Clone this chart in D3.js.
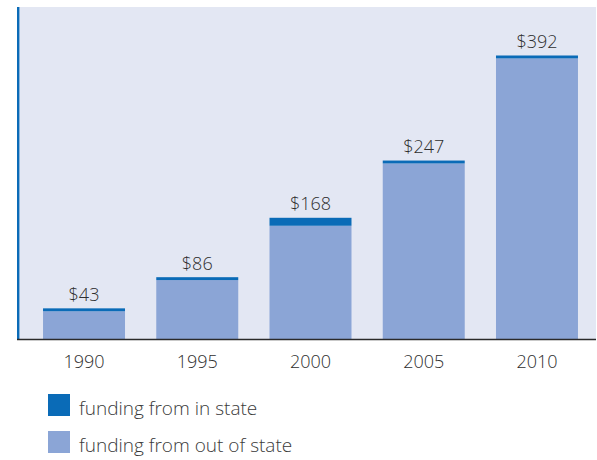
<!DOCTYPE html>
<html>
<head>
<meta charset="utf-8">
<script src="https://cdn.jsdelivr.net/npm/d3@7"></script>
<style>
  html, body { margin: 0; padding: 0; background: #ffffff; }
  svg { display: block; }
  text { font-family: "Open Sans", "Noto Sans", sans-serif; font-weight: 300; }
</style>
</head>
<body>
<svg id="chart" width="597" height="460"></svg>
<script>
const years = ["1990", "1995", "2000", "2005", "2010"];
const totals = [43, 86, 168, 247, 392];
const inState = [4, 4, 11, 4, 4];
const outState = [39, 82, 157, 243, 388];
const totalLabels = ["$43", "$86", "$168", "$247", "$392"];
const legendLabels = ["funding from in state", "funding from out of state"];

const colors = { inState: "#0a6bb7", outState: "#8ba5d6", panel: "#e3e7f3" };

const svg = d3.select("#chart");
const panel = { left: 17, right: 596, top: 7, bottom: 339.5 };

svg.append("rect")
  .attr("x", panel.left).attr("y", panel.top)
  .attr("width", panel.right - panel.left)
  .attr("height", panel.bottom - panel.top)
  .attr("fill", colors.panel);

const x = d3.scaleBand()
  .domain(years)
  .range([27.4, 593.6])
  .paddingInner(0.276)
  .paddingOuter(0.138);

const y = d3.scaleLinear()
  .domain([0, 400])
  .range([panel.bottom, panel.bottom - 289.8]);

const data = years.map((yr, i) => ({ yr, total: totals[i], inS: inState[i], outS: outState[i], label: totalLabels[i] }));

const g = svg.append("g");

g.selectAll("rect.out")
  .data(data).join("rect")
  .attr("class", "out")
  .attr("x", d => x(d.yr))
  .attr("width", x.bandwidth())
  .attr("y", d => y(d.outS))
  .attr("height", d => y(0) - y(d.outS))
  .attr("fill", colors.outState);

g.selectAll("rect.in")
  .data(data).join("rect")
  .attr("class", "in")
  .attr("x", d => x(d.yr))
  .attr("width", x.bandwidth())
  .attr("y", d => y(d.outS + d.inS))
  .attr("height", d => y(d.outS) - y(d.outS + d.inS))
  .attr("fill", colors.inState);

g.selectAll("text.val")
  .data(data).join("text")
  .attr("class", "val")
  .attr("x", d => x(d.yr) + x.bandwidth() / 2)
  .attr("y", d => y(d.total) - 7.5)
  .attr("text-anchor", "middle")
  .attr("font-size", 18)
  .attr("fill", "#2e2e2e")
  .text(d => d.label);

// left axis line
svg.append("line")
  .attr("x1", panel.left + 1.2).attr("x2", panel.left + 1.2)
  .attr("y1", panel.top).attr("y2", panel.bottom)
  .attr("stroke", colors.inState).attr("stroke-width", 2.4);

// x axis
const xAxis = d3.axisBottom(x).tickSize(0).tickPadding(16);
const ax = svg.append("g")
  .attr("transform", `translate(0,${panel.bottom})`)
  .call(xAxis);
ax.select(".domain").remove();
ax.selectAll("text")
  .attr("font-size", 18)
  .attr("fill", "#2e2e2e")
  .style("font-family", "'Open Sans', sans-serif")
  .style("font-weight", 300);

svg.append("line")
  .attr("x1", panel.left).attr("x2", panel.right)
  .attr("y1", panel.bottom).attr("y2", panel.bottom)
  .attr("stroke", "#2a2a2a").attr("stroke-width", 1.6);

// legend
const legColors = [colors.inState, colors.outState];
const leg = svg.append("g");
legendLabels.forEach((lab, i) => {
  const ly = 394 + i * 37;
  leg.append("rect")
    .attr("x", 48).attr("y", ly)
    .attr("width", 22).attr("height", 22)
    .attr("fill", legColors[i]);
  leg.append("text")
    .attr("x", 79).attr("y", ly + 21)
    .attr("font-size", 19)
    .attr("fill", "#3a3a3a")
    .text(lab);
});
</script>
</body>
</html>
